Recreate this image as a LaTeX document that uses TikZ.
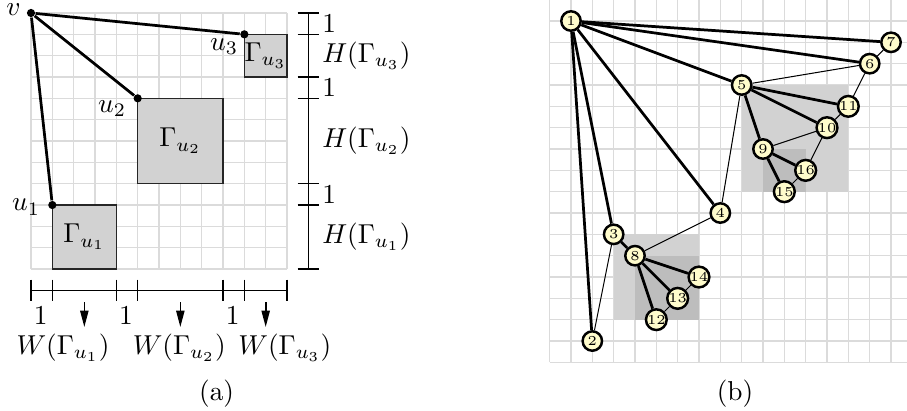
\documentclass[tikz,border=0pt]{standalone}
\usetikzlibrary{arrows.meta}
\begin{document}
\begin{tikzpicture}[x=7.8pt,y=7.8pt,
  gridline/.style={draw=gray!28, line width=0.45pt},
  gbox/.style={fill=gray!35, draw=black!85, line width=0.4pt},
  tedge/.style={line width=1.0pt},
  nedge/.style={line width=0.37pt},
  dotn/.style={circle, fill=black, inner sep=0pt, minimum size=3pt},
  scaleline/.style={line width=0.55pt},
  lbox/.style={fill=gray!35},
  dbox/.style={fill=gray!52},
  vn/.style={circle, draw=black, line width=0.9pt, fill=yellow!20, inner sep=0pt, minimum size=7.1pt, font=\tiny},
  downarrow/.style={-{Triangle[length=6pt,width=3pt]}, line width=0.6pt}
]
\useasboundingbox (-1.453,0.609) rectangle (41.06,-18.61);
% ---------------- panel (a) ----------------
\draw[gridline, step={(1,1)}] (0,-12) grid (12,0);
\draw[gbox] (1,-9) rectangle (4,-12);
\draw[gbox] (5,-4) rectangle (9,-8);
\draw[gbox] (10,-1) rectangle (12,-3);
\node (g1) at (2.5,-10.5) {$\Gamma_{u_1}$};
\node (g2) at (7,-6) {$\Gamma_{u_2}$};
\node (g3) at (11,-2) {$\Gamma_{u_3}$};
\node[dotn] (v) at (0,0) {};
\node[dotn] (u1) at (1,-9) {};
\node[dotn] (u2) at (5,-4) {};
\node[dotn] (u3) at (10,-1) {};
\draw[tedge] (v) -- (u1);
\draw[tedge] (v) -- (u2);
\draw[tedge] (v) -- (u3);
\node[inner sep=0pt] (vl) at (-0.82,0.16) {$v$};
\node (u1l) at (-0.23,-9.1) {$u_1$};
\node (u2l) at (3.8,-4.47) {$u_2$};
\node (u3l) at (9.05,-1.59) {$u_3$};
% height scale
\draw[scaleline] (13,0) -- (13,-12);
\foreach \y in {0,-1,-3,-4,-8,-9,-12}
  \draw[scaleline] (12.5,\y) -- (13.5,\y);
\node[anchor=west] (h1a) at (13.2,-0.5) {$1$};
\node[anchor=west] (h3) at (13.2,-2) {$H(\Gamma_{u_3})$};
\node[anchor=west] (h1b) at (13.2,-3.5) {$1$};
\node[anchor=west] (h2) at (13.2,-6) {$H(\Gamma_{u_2})$};
\node[anchor=west] (h1c) at (13.2,-8.5) {$1$};
\node[anchor=west] (h1) at (13.2,-10.5) {$H(\Gamma_{u_1})$};
% width scale
\draw[scaleline] (0,-13) -- (12,-13);
\foreach \x in {0,1,4,5,9,10,12}
  \draw[scaleline] (\x,-12.5) -- (\x,-13.5);
\node (w1a) at (0.45,-14.2) {$1$};
\node (w1b) at (4.45,-14.2) {$1$};
\node (w1c) at (9.45,-14.2) {$1$};
\coordinate (a1s) at (2.5,-13.55);
\coordinate (a1e) at (2.5,-14.72);
\coordinate (a2s) at (7,-13.55);
\coordinate (a2e) at (7,-14.72);
\coordinate (a3s) at (11,-13.55);
\coordinate (a3e) at (11,-14.72);
\draw[downarrow] (a1s) -- (a1e);
\draw[downarrow] (a2s) -- (a2e);
\draw[downarrow] (a3s) -- (a3e);
\node (w1) at (1.5,-15.7) {$W(\Gamma_{u_1})$};
\node (w2) at (6.95,-15.7) {$W(\Gamma_{u_2})$};
\node (w3) at (11.9,-15.7) {$W(\Gamma_{u_3})$};
\node (capa) at (8.7,-17.85) {(a)};
% ---------------- panel (b) ----------------
\begin{scope}
\clip (-1.453,0.609) rectangle (41.06,-18.61);
\begin{scope}[shift={(25.31,-0.375)}, yscale=-1]
\draw[gridline, step={(1,1)}] (-1,-1) grid (16,16);
\fill[lbox] (8,3) rectangle (13,8);
\fill[dbox] (9,6) rectangle (11,8);
\fill[lbox] (2,10) rectangle (6,14);
\fill[dbox] (3,11) rectangle (6,14);
\node[vn] (n1) at (0,0) {1};
\node[vn] (n7) at (15,1) {7};
\node[vn] (n6) at (14,2) {6};
\node[vn] (n5) at (8,3) {5};
\node[vn] (n11) at (13,4) {11};
\node[vn] (n10) at (12,5) {10};
\node[vn] (n9) at (9,6) {9};
\node[vn] (n16) at (11,7) {16};
\node[vn] (n15) at (10,8) {15};
\node[vn] (n4) at (7,9) {4};
\node[vn] (n3) at (2,10) {3};
\node[vn] (n8) at (3,11) {8};
\node[vn] (n14) at (6,12) {14};
\node[vn] (n13) at (5,13) {13};
\node[vn] (n12) at (4,14) {12};
\node[vn] (n2) at (1,15) {2};
\foreach \a/\b in {n7/n6,n6/n5,n6/n11,n11/n10,n10/n9,n10/n16,n16/n15,n5/n4,n4/n8,n3/n2,n14/n13,n13/n12}
  \draw[nedge] (\a) -- (\b);
\foreach \a/\b in {n1/n7,n1/n6,n1/n5,n1/n4,n1/n3,n1/n2,n5/n11,n5/n10,n5/n9,n9/n16,n9/n15,n3/n8,n8/n14,n8/n13,n8/n12}
  \draw[tedge] (\a) -- (\b);
\end{scope}
\end{scope}
\node (capb) at (33.0,-17.85) {(b)};
\end{tikzpicture}
\end{document}
